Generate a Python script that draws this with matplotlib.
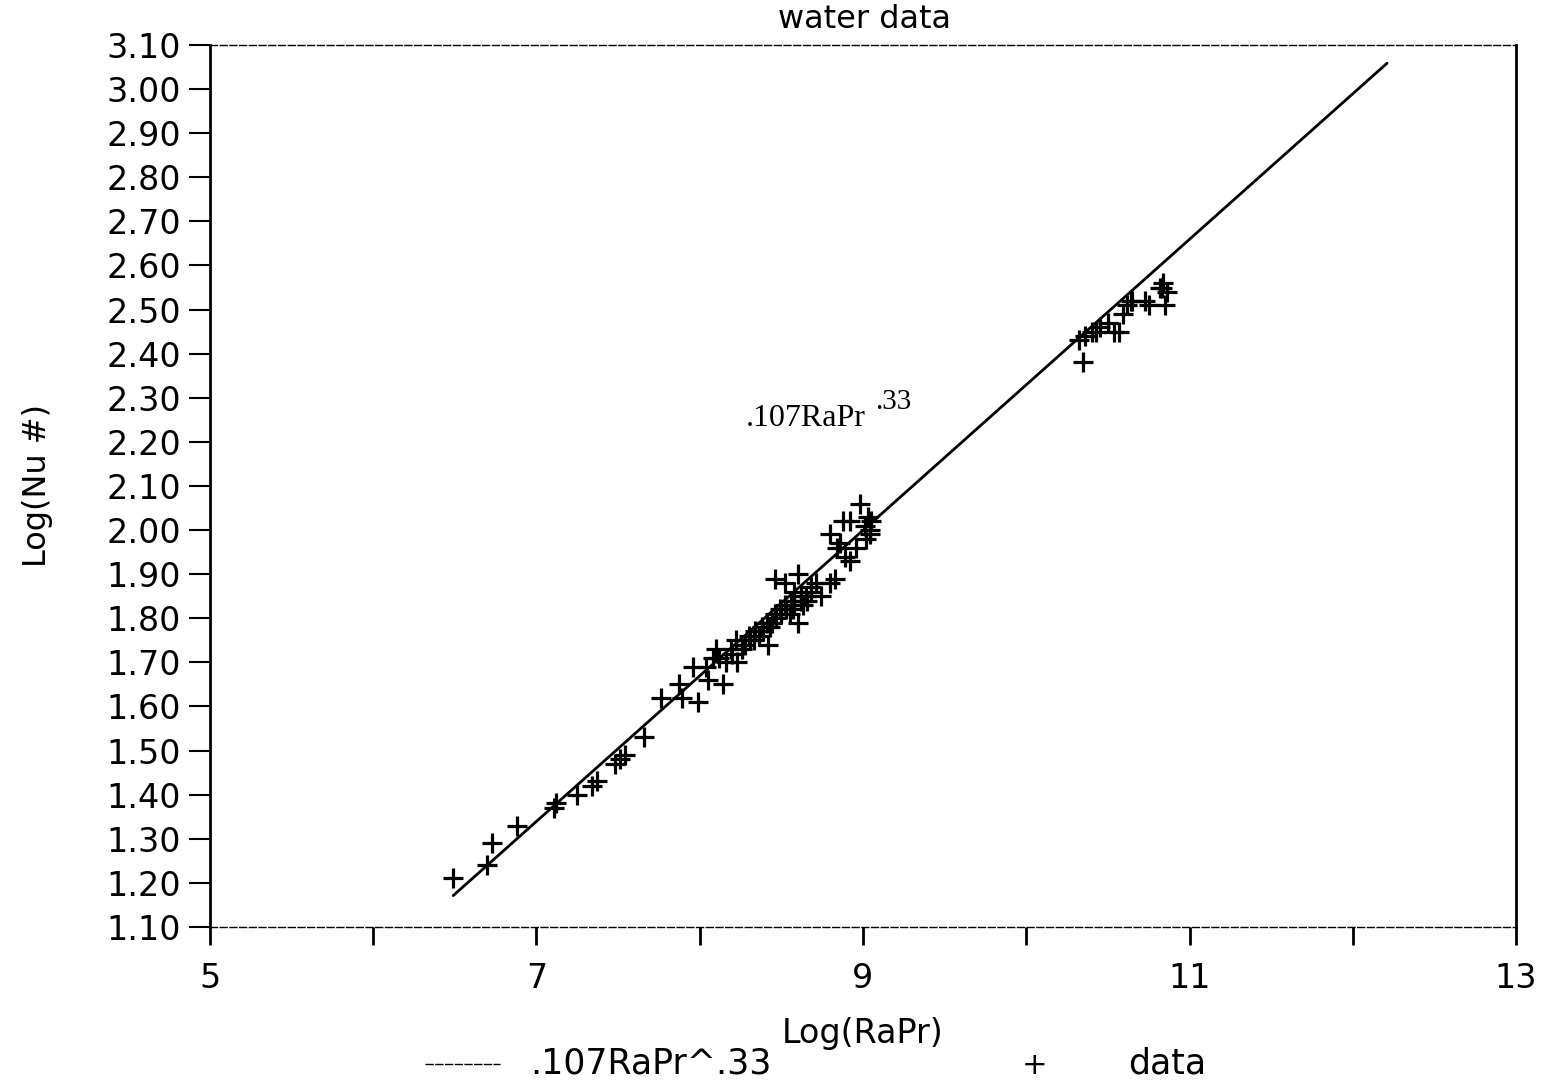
import numpy as np
import matplotlib
matplotlib.use("Agg")
import matplotlib.pyplot as plt
from matplotlib.lines import Line2D

# Correlation: Nu = 0.107 * (Ra*Pr)^0.33, plotted in log10 space
coef = 0.107
expo = 0.33
fit_x_range = [6.49, 12.21]

# Measured points, Log(RaPr) vs Log(Nu #)
log_rapr = [
    6.49, 6.70, 6.73, 6.88, 7.11, 7.12, 7.25, 7.34, 7.37, 7.48, 7.51, 7.54,
    7.66, 7.76, 7.87, 7.89, 7.99, 7.96, 8.04, 8.05, 8.08, 8.10, 8.14, 8.19,
    8.22, 8.23, 8.28, 8.31, 8.34, 8.39, 8.42, 8.43, 8.46, 8.49, 8.52, 8.46,
    8.52, 8.56, 8.58, 8.60, 8.60, 8.63, 8.68, 8.71, 8.74, 8.80, 8.83, 8.80,
    8.86, 8.89, 8.92, 8.92, 8.96, 8.98, 9.01, 9.03, 9.04, 9.04, 9.05, 8.55,
    8.57, 8.65, 8.36, 8.44, 8.62, 9.02,
    8.30, 8.33, 8.38, 8.41, 8.47, 8.50, 8.53, 8.58, 8.62, 8.66, 8.68, 8.26,
    8.20, 8.16, 8.12, 8.84, 8.88,
    10.32, 10.35, 10.36, 10.40, 10.45, 10.50, 10.54, 10.59, 10.62, 10.57,
    10.65, 10.73, 10.75, 10.82, 10.83, 10.86, 10.85, 10.84, 10.43, 10.64,
]
log_nu = [
    1.21, 1.24, 1.29, 1.33, 1.37, 1.38, 1.40, 1.42, 1.43, 1.47, 1.48, 1.49,
    1.53, 1.62, 1.65, 1.62, 1.61, 1.69, 1.69, 1.66, 1.71, 1.73, 1.65, 1.73,
    1.75, 1.70, 1.74, 1.75, 1.77, 1.77, 1.74, 1.78, 1.81, 1.82, 1.83, 1.89,
    1.88, 1.84, 1.86, 1.90, 1.79, 1.83, 1.86, 1.88, 1.85, 1.88, 1.89, 1.99,
    1.97, 1.94, 1.93, 2.02, 1.96, 2.06, 2.01, 2.03, 1.99, 2.00, 2.02, 1.81,
    1.82, 1.85, 1.76, 1.79, 1.84, 1.98,
    1.76, 1.75, 1.78, 1.79, 1.80, 1.81, 1.82, 1.83, 1.85, 1.84, 1.87, 1.73,
    1.72, 1.70, 1.71, 1.96, 2.02,
    2.43, 2.38, 2.44, 2.45, 2.46, 2.47, 2.45, 2.49, 2.51, 2.45,
    2.52, 2.52, 2.51, 2.55, 2.55, 2.54, 2.51, 2.56, 2.45, 2.52,
]

x_ticks = [5, 6, 7, 8, 9, 10, 11, 12, 13]
x_tick_labels = ["5", "", "7", "", "9", "", "11", "", "13"]
y_ticks = [1.10, 1.20, 1.30, 1.40, 1.50, 1.60, 1.70, 1.80, 1.90, 2.00,
           2.10, 2.20, 2.30, 2.40, 2.50, 2.60, 2.70, 2.80, 2.90, 3.00, 3.10]

sans = ["DejaVu Sans"]
serif = ["Liberation Serif", "DejaVu Serif"]

fig = plt.figure(figsize=(15.47, 10.81), dpi=100)
ax = fig.add_axes([0.1357, 0.1425, 0.8443, 0.8159])

fx = np.array(fit_x_range)
fy = np.log10(coef) + expo * fx
ax.plot(fx, fy, color="black", lw=2.0, solid_capstyle="round")
ax.plot(log_rapr, log_nu, linestyle="none", marker="+", color="black",
        markersize=15, markeredgewidth=2.3)

ax.set_xlim(5, 13)
ax.set_ylim(1.10, 3.10)
ax.set_xticks(x_ticks)
ax.set_xticklabels(x_tick_labels, fontsize=24, family=sans)
ax.set_yticks(y_ticks)
ax.set_yticklabels([f"{v:.2f}" for v in y_ticks], fontsize=24, family=sans)
ax.tick_params(axis="x", direction="out", length=13, width=2, pad=12)
ax.tick_params(axis="y", direction="out", length=15, width=1.5, pad=6)

for side in ("top", "bottom"):
    ax.spines[side].set_linestyle((0, (5, 2)))
    ax.spines[side].set_linewidth(1.0)
for side in ("left", "right"):
    ax.spines[side].set_linewidth(2.0)

fig.text(865 / 1547, 1 - 20 / 1081, "water data", fontsize=23,
         family=sans, ha="center", va="center")
ax.set_xlabel("Log(RaPr)", fontsize=24, family=sans, labelpad=16)
ax.set_ylabel("Log(Nu #)", fontsize=23, family=sans, labelpad=38)

# equation annotation near the fit line
eq = ax.text(8.28, 2.235, ".107RaPr", fontsize=23, family=serif,
             ha="left", va="baseline")
ax.annotate(".33", xy=(1, 1), xycoords=eq, xytext=(7, 2),
            textcoords="offset points", fontsize=21, family=serif,
            ha="left", va="center")

# legend row below the axis label
fig.add_artist(Line2D([425 / 1547, 500 / 1547], [1 - 1064 / 1081] * 2,
                      color="black", lw=1.0, linestyle=(0, (6, 1))))
fig.text(530 / 1547, 1 - 1064 / 1081, ".107RaPr^.33", fontsize=25,
         family=sans, va="center", ha="left")
fig.text(1035 / 1547, 1 - 1066 / 1081, "+", fontsize=22,
         family=sans, va="center", ha="center")
fig.text(1128 / 1547, 1 - 1064 / 1081, "data", fontsize=25,
         family=sans, va="center", ha="left")

fig.savefig("out.png", dpi=100, facecolor="white")
